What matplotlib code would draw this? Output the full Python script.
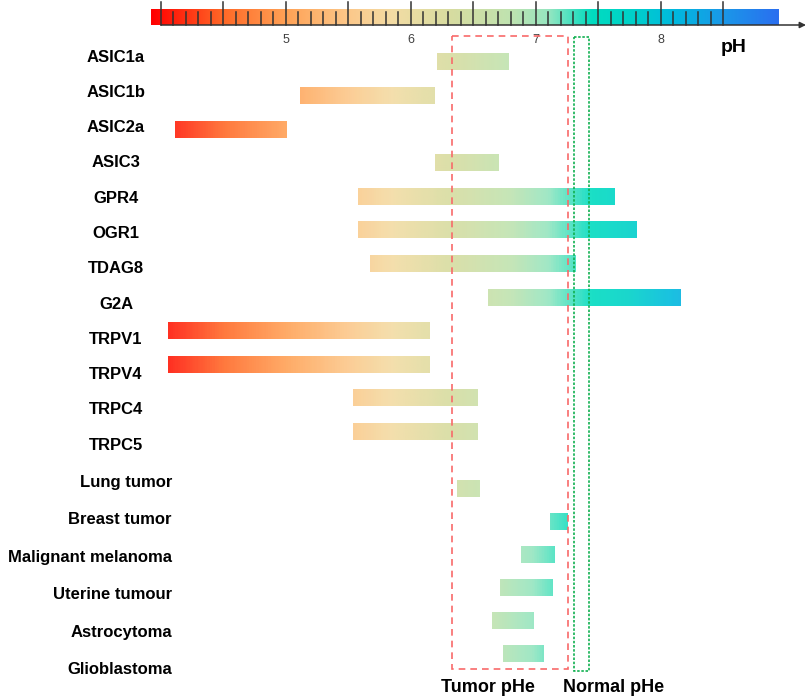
import numpy as np
import matplotlib
matplotlib.use("Agg")
import matplotlib.pyplot as plt
from matplotlib.colors import LinearSegmentedColormap, Normalize
from matplotlib.patches import Rectangle

plt.rcParams['font.family'] = ['Liberation Sans', 'DejaVu Sans']

# pH sensing ranges of the channels / receptors
channels = ["ASIC1a", "ASIC1b", "ASIC2a", "ASIC3", "GPR4", "OGR1", "TDAG8", "G2A",
            "TRPV1", "TRPV4", "TRPC4", "TRPC5"]
ch_low = [6.21, 5.11, 4.11, 6.19, 5.58, 5.58, 5.67, 6.62, 4.06, 4.06, 5.54, 5.54]
ch_high = [6.78, 6.19, 5.00, 6.70, 7.63, 7.81, 7.31, 8.16, 6.15, 6.15, 6.54, 6.54]

# extracellular pH of tumours
tumors = ["Lung tumor", "Breast tumor", "Malignant melanoma", "Uterine tumour",
          "Astrocytoma", "Glioblastoma"]
tu_low = [6.37, 7.11, 6.88, 6.71, 6.65, 6.74]
tu_high = [6.55, 7.25, 7.15, 7.13, 6.98, 7.06]

tumor_phe = (6.33, 7.26)
normal_phe = (7.30, 7.42)
ph_labels = [5, 6, 7, 8]

# colour scale
cb_lo, cb_hi = 3.92, 8.94
stops = [(3.92, "#ff0000"), (4.5, "#ff6a28"), (5.0, "#ffa256"), (5.5, "#fcc88a"),
         (5.85, "#f3dca4"), (6.3, "#d8dca0"), (6.8, "#bfe3b0"), (7.1, "#96e6c0"),
         (7.45, "#00dcc0"), (7.75, "#00d2c8"), (8.1, "#00bade"), (8.5, "#1a98e8"),
         (8.94, "#2a6ff0")]
cmap = LinearSegmentedColormap.from_list(
    "ph", [((v - cb_lo) / (cb_hi - cb_lo), c) for v, c in stops])
norm = Normalize(cb_lo, cb_hi)

fig = plt.figure(figsize=(8.09, 7.0), dpi=100)
ax = fig.add_axes([0, 0, 1, 1])
ax.axis("off")

# x in pH, y in pixel rows (top = 0)
px = 125.0
x0 = 4 - 161 / px
x1 = 4 + (809 - 161) / px


def grad_bar(lo, hi, ytop, ybot, alpha=1.0, shift=0.0):
    g = np.linspace(lo + shift, hi + shift, 256).reshape(1, -1)
    ax.imshow(g, cmap=cmap, norm=norm, extent=(lo, hi, ybot, ytop),
              aspect="auto", interpolation="bilinear", alpha=alpha, zorder=2)


# colour bar with ticks
grad_bar(cb_lo, cb_hi, 9, 25)
for t in np.arange(4.0, 8.51, 0.1):
    major = abs(t * 2 - round(t * 2)) < 1e-6
    ax.plot([t, t], [2 if major else 12, 25], color="#333333", lw=1.1, zorder=3)
ax.annotate("", xy=(4 + (806 - 161) / px, 25), xytext=(4.0, 25),
            arrowprops=dict(arrowstyle="-|>", color="#333333", lw=1.1,
                            mutation_scale=9, shrinkA=0, shrinkB=0), zorder=3)
for v in ph_labels:
    ax.text(v, 40, str(v), ha="center", va="center", fontsize=9, color="#404040")
ax.text(4 + (734 - 161) / px, 48, "pH", ha="center", va="center",
        fontsize=14, fontweight="bold")

bh = 17
for i, (name, lo, hi) in enumerate(zip(channels, ch_low, ch_high)):
    yc = 62 + i * 33.6
    grad_bar(lo, hi, yc - bh / 2, yc + bh / 2, alpha=0.9)
    ax.text(4 + (116 - 161) / px, 57 + i * 35.3, name, ha="center", va="center",
            fontsize=12, fontweight="bold")

# tumour bars are drawn a little more teal than the scale
for j, (name, lo, hi) in enumerate(zip(tumors, tu_low, tu_high)):
    yc = 489 + j * 33.0
    grad_bar(lo, hi, yc - bh / 2, yc + bh / 2, alpha=0.9, shift=0.13)
    ax.text(4 + (172 - 161) / px, 482 + j * 37.6, name, ha="right", va="center",
            fontsize=12, fontweight="bold")

# tumour / normal pHe boxes
ax.add_patch(Rectangle((tumor_phe[0], 36), tumor_phe[1] - tumor_phe[0], 669 - 36,
                       fill=False, ec="#f86a6a", lw=1.2, ls=(0, (4, 3)), zorder=4))
ax.add_patch(Rectangle((normal_phe[0], 37), normal_phe[1] - normal_phe[0], 671 - 37,
                       fill=False, ec="#10b050", lw=1.2, ls=(0, (1.5, 1)), zorder=4))
ax.text(4 + (488 - 161) / px, 688, "Tumor pHe", ha="center", va="center",
        fontsize=13, fontweight="bold")
ax.text(4 + (614 - 161) / px, 688, "Normal pHe", ha="center", va="center",
        fontsize=13, fontweight="bold")

ax.set_xlim(x0, x1)
ax.set_ylim(700, 0)
fig.savefig("out.png", dpi=100)
